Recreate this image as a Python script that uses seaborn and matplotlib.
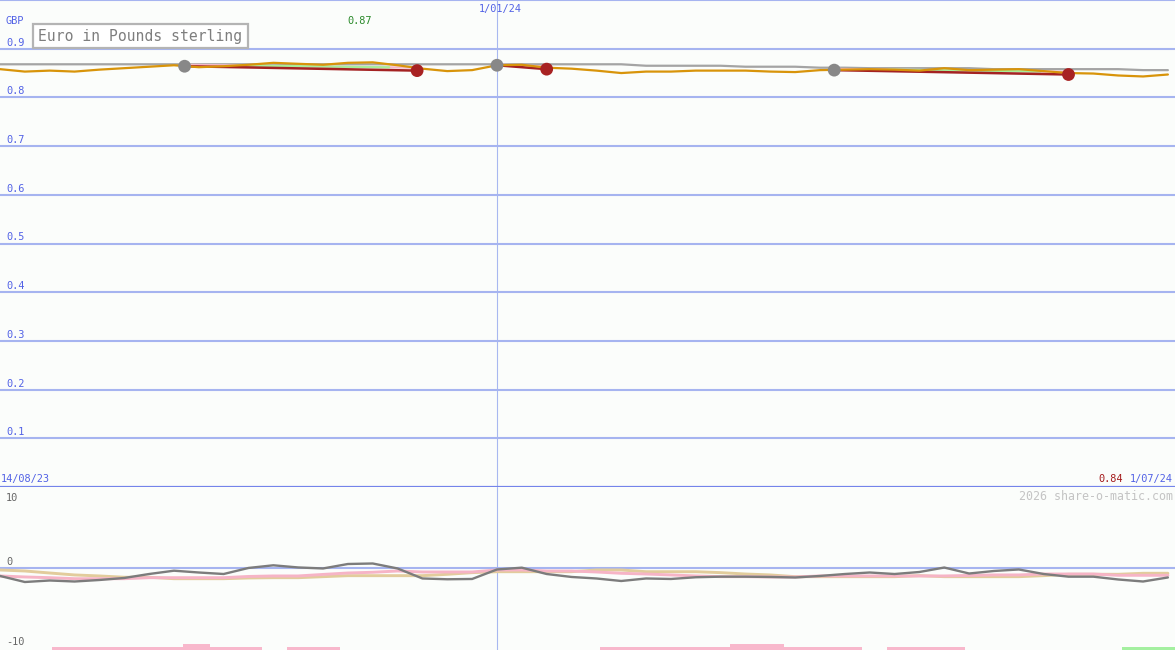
import numpy as np
import pandas as pd
import matplotlib
matplotlib.use("Agg")
import matplotlib.pyplot as plt
import seaborn as sns
from matplotlib.patches import Rectangle

# ---------------- data (days since 14/08/23, weekly) ----------------
week_day = list(range(0, 336, 7))  # 48 weekly points

eur_gbp = [0.858, 0.853, 0.855, 0.853, 0.857, 0.860, 0.863, 0.866, 0.862, 0.864,
           0.867, 0.871, 0.869, 0.867, 0.871, 0.872, 0.866, 0.859, 0.854, 0.856,
           0.866, 0.867, 0.861, 0.859, 0.855, 0.850, 0.853, 0.853, 0.855, 0.855,
           0.855, 0.853, 0.852, 0.856, 0.857, 0.858, 0.857, 0.855, 0.860, 0.856,
           0.857, 0.858, 0.854, 0.850, 0.849, 0.845, 0.843, 0.847]

long_avg = [0.868] * 26 + [0.865, 0.865, 0.865, 0.865, 0.863, 0.863, 0.863, 0.861,
                           0.861, 0.860, 0.860, 0.860, 0.860, 0.860, 0.858, 0.858,
                           0.858, 0.858, 0.858, 0.858, 0.856, 0.856]

osc_grey = [-1.15, -1.99, -1.78, -1.92, -1.71, -1.43, -0.88, -0.42, -0.67, -0.88,
            -0.04, 0.33, 0.03, -0.11, 0.51, 0.58, -0.11, -1.50, -1.61, -1.57,
            -0.25, 0.00, -0.88, -1.29, -1.50, -1.85, -1.50, -1.57, -1.33, -1.25,
            -1.25, -1.29, -1.36, -1.15, -0.88, -0.67, -0.88, -0.60, 0.02, -0.81,
            -0.46, -0.25, -0.88, -1.25, -1.25, -1.64, -1.92, -1.36]

osc_pink = [-1.15, -1.29, -1.39, -1.53, -1.53, -1.53, -1.39, -1.39, -1.39, -1.39,
            -1.22, -1.15, -1.15, -0.94, -0.74, -0.64, -0.46, -0.60, -0.60, -0.60,
            -0.32, -0.32, -0.46, -0.46, -0.60, -0.78, -0.88, -1.01, -1.15, -1.25,
            -1.25, -1.29, -1.29, -1.15, -1.15, -1.15, -1.15, -1.15, -1.15, -1.08,
            -1.01, -1.01, -0.88, -0.88, -0.88, -1.06, -1.06, -1.06]

osc_tan = [-0.32, -0.46, -0.74, -1.01, -1.15, -1.33, -1.33, -1.53, -1.53, -1.53,
           -1.43, -1.39, -1.39, -1.25, -1.11, -1.11, -1.11, -1.11, -0.92, -0.69,
           -0.56, -0.56, -0.56, -0.56, -0.32, -0.32, -0.56, -0.56, -0.56, -0.69,
           -0.88, -1.01, -1.25, -1.25, -1.25, -1.25, -1.25, -1.11, -1.25, -1.25,
           -1.25, -1.25, -1.11, -0.92, -0.92, -0.92, -0.78, -0.78]

# turning points (grey = high, red = low)
turn_day_grey = [52, 140, 235]
turn_val_grey = [0.864, 0.866, 0.856]
turn_day_red = [117.5, 154, 301]
turn_val_red = [0.855, 0.858, 0.847]
# channel lines above the red trend segments
chan_val_start = [0.867, 0.8675, 0.8585]
chan_val_end = [0.861, 0.8635, 0.8525]

# signal bars at the bottom of the oscillator panel
signal_start = [14.6, 51.6, 59.2, 80.9, 169.0, 205.6, 220.9, 249.9, 316.0]
signal_end = [51.6, 59.2, 73.8, 95.8, 205.6, 220.9, 242.8, 271.8, 331.0]
signal_level = [1, 2, 1, 1, 1, 2, 1, 1, 1]
signal_kind = ["sell", "sell", "sell", "sell", "sell", "sell", "sell", "sell", "buy"]

price_ticks = [0.1, 0.2, 0.3, 0.4, 0.5, 0.6, 0.7, 0.8, 0.9, 1.0]
price_tick_labels = ["0.1", "0.2", "0.3", "0.4", "0.5", "0.6", "0.7", "0.8", "0.9", ""]
osc_ticks = [10, 0, -10]
osc_tick_labels = ["10", "0", "-10"]

x_span_days = 331
year_start_day = 140
date_first, date_mid, date_last = "14/08/23", "1/01/24", "1/07/24"
high_label, low_label = "0.87", "0.84"
title = "Euro in Pounds sterling"
credit = "2026 share-o-matic.com"

# ---------------- style ----------------
sns.set_style("white")
plt.rcParams["font.family"] = ["DejaVu Sans Mono", "DejaVu Sans"]

BG = "#fbfdfb"
GRID = "#a6b4f0"
DIVIDER = "#7484ea"
BLUE_TXT = "#5262e6"
FS = 7.4

W, H = 1175, 650
fig = plt.figure(figsize=(W / 100, H / 100), dpi=100, facecolor=BG)
split = 163 / H
ax1 = fig.add_axes([0, split, 1, 1 - split], facecolor=BG)
ax2 = fig.add_axes([0, 0, 1, split], facecolor=BG)

for ax in (ax1, ax2):
    ax.set_xlim(0, x_span_days)
    for s in ax.spines.values():
        s.set_visible(False)
    ax.set_xticks([])
    ax.set_yticks([])
    ax.set_xlabel("")
    ax.set_ylabel("")
    ax.axvline(year_start_day, color="#a8b8f0", lw=0.8, zorder=1)

ax1.set_ylim(0, 1.0)
ax2.set_ylim(-11.43, 11.2)

# ---- main panel ----
for v, lab in zip(price_ticks, price_tick_labels):
    ax1.axhline(v, color=GRID, lw=1.5, zorder=1)
    if lab:
        ax1.annotate(lab, xy=(0, v), xycoords=("axes fraction", "data"),
                     xytext=(6, 1), textcoords="offset pixels",
                     ha="left", va="bottom", fontsize=FS, color=BLUE_TXT)
ax1.axhline(0, color=DIVIDER, lw=1.6, zorder=5, clip_on=False)

sns.lineplot(x=week_day, y=long_avg, ax=ax1, color="#a4a4a4", lw=1.6,
             sort=False, zorder=3, legend=False)

# channel lines (pink / green) and red trend segments
for i in range(len(turn_day_grey)):
    d0, d1 = turn_day_grey[i], turn_day_red[i]
    sns.lineplot(x=[d0, d1], y=[chan_val_start[i], chan_val_end[i]], ax=ax1,
                 color="#f4b8c8", lw=1.6, zorder=3, legend=False)
    mid0 = d0 + (d1 - d0) * 0.23
    mid1 = d0 + (d1 - d0) * 0.88
    f0 = chan_val_start[i] + (chan_val_end[i] - chan_val_start[i]) * 0.23
    f1 = chan_val_start[i] + (chan_val_end[i] - chan_val_start[i]) * 0.88
    if i != 1:
        sns.lineplot(x=[mid0, mid1], y=[f0, f1], ax=ax1, color="#a8ee98",
                     lw=1.6, zorder=3, legend=False)
    sns.lineplot(x=[d0, d1], y=[turn_val_grey[i], turn_val_red[i]], ax=ax1,
                 color="#a42222", lw=1.8, zorder=4, legend=False)

sns.lineplot(x=week_day, y=eur_gbp, ax=ax1, color="#d8940a", lw=1.6,
             sort=False, zorder=5, legend=False)

sns.scatterplot(x=turn_day_grey, y=turn_val_grey, ax=ax1, s=85,
                color="#888888", edgecolor="none", zorder=6, legend=False)
sns.scatterplot(x=turn_day_red, y=turn_val_red, ax=ax1, s=85,
                color="#a82222", edgecolor="none", zorder=6, legend=False)

# ---- oscillator panel ----
for v, lab in zip(osc_ticks, osc_tick_labels):
    ax2.annotate(lab, xy=(0, v), xycoords=("axes fraction", "data"),
                 xytext=(6, 1 if v == 0 else -2), textcoords="offset pixels",
                 ha="left", va="bottom" if v == 0 else "center",
                 fontsize=FS, color="#666666")
ax2.axhline(0, color=GRID, lw=1.5, zorder=1)

sns.lineplot(x=week_day, y=osc_tan, ax=ax2, color="#e2cc9c", lw=2.1,
             sort=False, zorder=3, legend=False)
sns.lineplot(x=week_day, y=osc_pink, ax=ax2, color="#f6b4c6", lw=2.1,
             sort=False, zorder=3, legend=False)
sns.lineplot(x=week_day, y=osc_grey, ax=ax2, color="#7c7c7c", lw=1.7,
             sort=False, zorder=4, legend=False)

ylo = ax2.get_ylim()[0]
level_h = 0.42
kind_color = {"sell": "#f8b8cc", "buy": "#a4f0a0"}
ax2.bar([s for s in signal_start],
        [lv * level_h for lv in signal_level],
        width=[e - s for s, e in zip(signal_start, signal_end)],
        bottom=ylo, align="edge",
        color=[kind_color[k] for k in signal_kind], edgecolor="none", zorder=2)

# ---- texts ----
def ftext(x, y, s, **kw):
    fig.text(x / W, 1 - y / H, s, **kw)

ftext(6, 21, "GBP", ha="left", va="center", fontsize=FS, color=BLUE_TXT)
ftext(500, 9, date_mid, ha="center", va="center", fontsize=FS, color=BLUE_TXT)
ftext(360, 21, high_label, ha="center", va="center", fontsize=FS, color="#2a8a2a")
ftext(1, 479, date_first, ha="left", va="center", fontsize=FS, color=BLUE_TXT)
ftext(1123, 479, low_label, ha="right", va="center", fontsize=FS, color="#a41a1a")
ftext(1173, 479, date_last, ha="right", va="center", fontsize=FS, color=BLUE_TXT)
ftext(1173, 496, credit, ha="right", va="center", fontsize=8.4, color="#c4c4c4")

box = Rectangle((33 / W, 1 - 48 / H), 215 / W, 24 / H, transform=fig.transFigure,
                facecolor="#ffffff", edgecolor="#b4b4b4", lw=1.6, zorder=10)
fig.patches.append(box)
ftext(38, 36.5, title, ha="left", va="center", fontsize=10.6, color="#7e7e7e",
      zorder=11)

fig.savefig("out.png", dpi=100, facecolor=BG)
